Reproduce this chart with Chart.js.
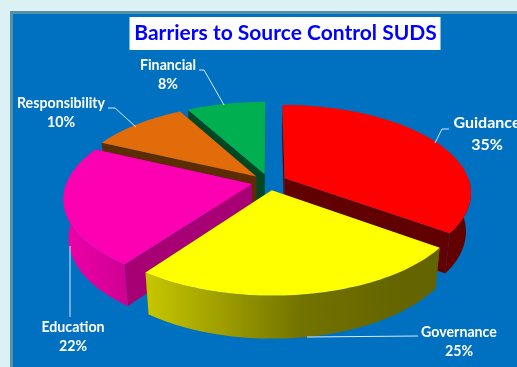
<!DOCTYPE html>
<html>
<head>
<meta charset="utf-8">
<title>Barriers to Source Control SUDS</title>
<script src="https://cdn.jsdelivr.net/npm/chart.js@4"></script>
<style>
    html, body { margin: 0; padding: 0; width: 517px; height: 367px; overflow: hidden; background: #dbf1f3; }
    #panel { position: absolute; left: 10px; top: 11px; width: 600px; height: 500px; background: #0070c0; border: 3px solid #5590a6; }
    #pie { position: absolute; left: 0; top: 0; }
</style>
</head>
<body>
<div id="panel"></div>
<canvas id="pie" width="517" height="367"></canvas>
<script>
const categories = ['Guidance', 'Governance', 'Education', 'Responsibility', 'Financial'];
const shares = [35, 25, 22, 10, 8];

const topColors = ['#ff0000', '#ffff00', '#fc00b2', '#e26b0a', '#00b050'];
const cutColors = ['#600000', '#666600', '#a60074', '#5c2c04', '#004824'];

// label text anchor, font size, leader polyline
const labelSpots = [
    { x: 487, y: 123, size: 16, line: [[449, 129], [442, 129], [435, 143]] },
    { x: 459, y: 332, size: 14.2, line: [[418, 336], [307, 337]] },
    { x: 73, y: 327, size: 14.2, line: [[70, 246], [70, 317]] },
    { x: 61, y: 103, size: 14.2, line: [[108, 108], [115, 108], [136, 127]] },
    { x: 168, y: 65, size: 14.2, line: [[199, 70], [204, 70], [224, 105]] }
];

// 3D view of the pie
const view = { cx: 269, cy: 182, rx: 185, ry: 86, persp: 0.157, depth: 38, shrink: 0.025 };

function project(u, v, h) {
    const s = 1 / (1 - view.persp * v);
    const f = 1 - view.shrink * h;
    return [view.cx + u * view.rx * s * f, view.cy + v * view.ry * s * f + h * view.depth * s];
}

function shade(hex, k) {
    const n = parseInt(hex.slice(1), 16);
    return `rgb(${Math.round((n >> 16) * k)},${Math.round(((n >> 8) & 255) * k)},${Math.round((n & 255) * k)})`;
}

function wallGradient(ctx, hex) {
    const g = ctx.createLinearGradient(64, 0, 471, 0);
    [[0, 0.95], [0.2, 0.78], [0.58, 0.45], [0.8, 0.4], [1, 0.38]].forEach(([p, k]) => g.addColorStop(p, shade(hex, k)));
    return g;
}

function fillPath(ctx, pts, style) {
    ctx.beginPath();
    pts.forEach((p, i) => i ? ctx.lineTo(p[0], p[1]) : ctx.moveTo(p[0], p[1]));
    ctx.closePath();
    ctx.fillStyle = style;
    ctx.fill();
}

// draws one arc element as an extruded slice
function drawSlice(ctx, arc, index) {
    const off = arc.options.offset / arc.outerRadius;
    const mid = (arc.startAngle + arc.endAngle) / 2;
    const ou = Math.cos(mid) * off;
    const ov = Math.sin(mid) * off;
    const steps = 60;
    const rim = [];
    const front = [];
    for (let i = 0; i <= steps; i++) {
        const a = arc.startAngle + (arc.endAngle - arc.startAngle) * i / steps;
        const p = [ou + Math.cos(a), ov + Math.sin(a)];
        rim.push(p);
        // the back of the rim is hidden behind the top face
        if (Math.sin(a) > -0.02) front.push(p);
    }
    const first = rim[0];
    const last = rim[steps];

    fillPath(ctx, [project(ou, ov, 0), project(first[0], first[1], 0), project(first[0], first[1], 1), project(ou, ov, 1)], cutColors[index]);
    fillPath(ctx, [project(ou, ov, 0), project(last[0], last[1], 0), project(last[0], last[1], 1), project(ou, ov, 1)], cutColors[index]);

    if (front.length > 1) {
        const wall = front.map(p => project(p[0], p[1], 0)).concat(front.slice().reverse().map(p => project(p[0], p[1], 1)));
        fillPath(ctx, wall, wallGradient(ctx, topColors[index]));
    }

    fillPath(ctx, [project(ou, ov, 0)].concat(rim.map(p => project(p[0], p[1], 0))), topColors[index]);
}

const pie3d = {
    id: 'pie3d',
    beforeDraw(chart) {
        // white plate behind the title
        const { ctx, titleBlock } = chart;
        const mid = titleBlock.left + titleBlock.width / 2;
        ctx.save();
        ctx.fillStyle = '#ffffff';
        ctx.fillRect(mid - 156, 17, 311, 33);
        ctx.restore();
    },
    beforeDatasetDraw(chart, args) {
        const ctx = chart.ctx;
        const arcs = args.meta.data.map((arc, i) => ({ arc, i }));
        // far slices first
        arcs.sort((a, b) => Math.sin((a.arc.startAngle + a.arc.endAngle) / 2) - Math.sin((b.arc.startAngle + b.arc.endAngle) / 2));
        ctx.save();
        arcs.forEach(({ arc, i }) => drawSlice(ctx, arc, i));
        ctx.restore();
        return false;
    },
    afterDraw(chart) {
        const ctx = chart.ctx;
        ctx.save();
        ctx.textAlign = 'center';
        ctx.textBaseline = 'middle';
        categories.forEach((name, i) => {
            const spot = labelSpots[i];
            ctx.strokeStyle = 'rgba(255,255,255,0.85)';
            ctx.lineWidth = 1;
            ctx.beginPath();
            spot.line.forEach((p, j) => j ? ctx.lineTo(p[0], p[1]) : ctx.moveTo(p[0], p[1]));
            ctx.stroke();
            ctx.fillStyle = '#ffffff';
            ctx.font = `bold ${spot.size}px Lato`;
            ctx.fillText(name, spot.x, spot.y);
            ctx.fillText(shares[i] + '%', spot.x, spot.y + spot.size * 1.35);
        });
        ctx.restore();
    }
};

new Chart(document.getElementById('pie'), {
    type: 'pie',
    data: {
        labels: categories,
        datasets: [{ data: shares, backgroundColor: topColors, offset: 14 }]
    },
    options: {
        responsive: false,
        animation: false,
        layout: { padding: { left: 54 } },
        plugins: {
            legend: { display: false },
            tooltip: { enabled: false },
            title: {
                display: true,
                text: 'Barriers to Source Control SUDS',
                color: '#0000ff',
                font: { family: 'Lato', size: 21, weight: 'bold' },
                padding: { top: 21, bottom: 10 }
            }
        }
    },
    plugins: [pie3d]
});
</script>
</body>
</html>
